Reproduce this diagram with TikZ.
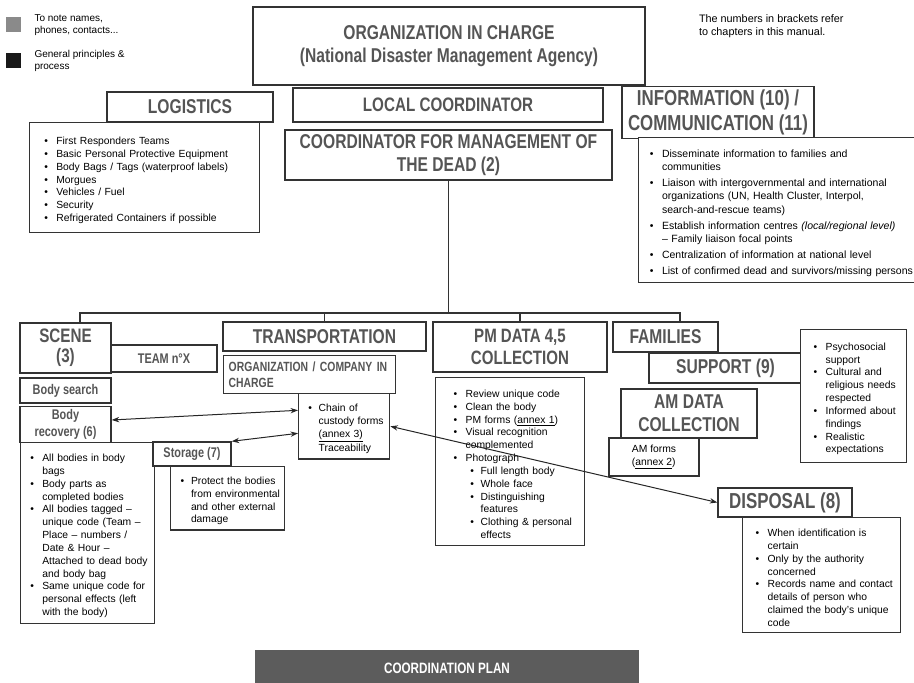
\documentclass[tikz,border=0pt]{standalone}
\usepackage{fontspec}
\setmainfont{Liberation Sans}
\newfontfamily\headfont{Liberation Sans}[FakeStretch=0.78]
\usepackage{enumitem}
\usetikzlibrary{arrows.meta,positioning}
\definecolor{headgray}{HTML}{555555}
\definecolor{edgegray}{HTML}{333333}
\definecolor{keygray}{HTML}{8A8A8A}
\definecolor{planbg}{HTML}{5C5C5C}
\setlist[itemize]{nosep, leftmargin=11pt, labelsep=5pt, label=\textbullet}
\newcommand{\listsize}{\fontsize{6.2}{7.7}\selectfont}

\begin{document}
\begin{tikzpicture}[
    x=0.6pt, y=-0.6pt,
    sz/.style 2 args={minimum width=#1*0.6pt, minimum height=#2*0.6pt},
    lw/.style 2 args={minimum width=#1*0.6pt, minimum height=#2*0.6pt, text width=#1*0.6pt-6pt},
    box/.style={rectangle, draw=edgegray, line width=0.8pt, fill=white, inner sep=2pt},
    headbox/.style={box, align=center, text=headgray, font=\headfont\bfseries\fontsize{12}{14}\selectfont},
    bighead/.style={font=\headfont\bfseries\fontsize{13}{15}\selectfont},
    smallhead/.style={font=\headfont\bfseries\fontsize{8.4}{10}\selectfont},
    listbox/.style={box, anchor=north west, inner sep=3pt, align=left, font=\listsize},
    keysq/.style={rectangle, sz={15}{15}, inner sep=0pt},
    keytext/.style={align=left, inner sep=1pt, font=\fontsize{6}{7}\selectfont},
    bus/.style={line width=0.9pt, draw=edgegray},
    link/.style={<->, line width=0.6pt, draw=black!85, >={Stealth[length=4.5pt, width=3.2pt]}}
]
    \useasboundingbox (0,0) rectangle (914,683);

    % --- legend and note ---
    \node[keysq, fill=keygray] (keynote) at (13,25) {};
    \node[keytext, right=7pt of keynote] (keynotetxt) {To note names,\\phones, contacts...};
    \node[keysq, fill=black!90] (keyproc) at (13,61) {};
    \node[keytext, right=7pt of keyproc] (keyproctxt) {General principles \&\\process};
    \node[keytext, anchor=north west, font=\fontsize{6.5}{7.5}\selectfont] (chapnote) at (697,13) {The numbers in brackets refer\\to chapters in this manual.};

    % --- top: command ---
    \node[headbox, sz={392}{78}] (org) at (449,46) {ORGANIZATION IN CHARGE\\(National Disaster Management Agency)};
    \node[headbox, sz={310}{34}, font=\headfont\bfseries\fontsize{11.7}{13}\selectfont] (local) at (448,105) {LOCAL COORDINATOR};
    \node[headbox, sz={327}{50}] (coord) at (448.5,155) {COORDINATOR FOR MANAGEMENT OF\\THE DEAD (2)};

    % --- logistics ---
    \node[headbox, sz={166}{30}] (logist) at (190,107) {LOGISTICS};
    \node[listbox, lw={230}{110}] (logistlist) at (29,122) {%
        \begin{itemize}[leftmargin=13pt]
            \item First Responders Teams
            \item Basic Personal Protective Equipment
            \item Body Bags / Tags (waterproof labels)
            \item Morgues
            \item Vehicles / Fuel
            \item Security
            \item Refrigerated Containers if possible
        \end{itemize}};

    % --- information / communication ---
    \node[headbox, bighead, sz={192}{49}] (info) at (718,112.5) {INFORMATION (10) /\\COMMUNICATION (11)};
    \node[listbox, lw={292}{145}, font=\fontsize{6.3}{8}\selectfont] (infolist) at (638,137) {%
        \begin{itemize}[itemsep=1.6pt]
            \item Disseminate information to families and\\communities
            \item Liaison with intergovernmental and international\\organizations (UN, Health Cluster, Interpol,\\search-and-rescue teams)
            \item Establish information centres \textit{(local/regional level)}\\
                  -- Family liaison focal points
            \item Centralization of information at national level
            \item List of confirmed dead and survivors/missing persons
        \end{itemize}};

    % --- scene ---
    \node[headbox, sz={91}{50}, font=\headfont\bfseries\fontsize{11.7}{12}\selectfont] (scene) at (65.5,348) {SCENE\\(3)};
    \node[headbox, smallhead, sz={106}{27}] (team) at (164,358.5) {TEAM n°X};
    \node[headbox, smallhead, sz={91}{25}] (bsearch) at (65.5,390.5) {Body search};
    \node[headbox, smallhead, sz={91}{35}] (brecov) at (65.5,424.5) {Body\\recovery (6)};
    \node[listbox, lw={134}{181}] (scenelist) at (20,442) {%
        \begin{itemize}[leftmargin=10pt, labelsep=5pt]
            \item All bodies in body bags
            \item Body parts as completed bodies
            \item All bodies tagged -- unique code (Team -- Place -- numbers / Date \& Hour -- Attached to dead body and body bag
            \item Same unique code for personal effects (left with the body)
        \end{itemize}};
    \node[headbox, smallhead, sz={78}{24}] (storage) at (192,454) {Storage (7)};
    \node[listbox, lw={114}{57}, text width=64pt, inner xsep=2.2pt] (storelist) at (170,466) {%
        \begin{itemize}[leftmargin=10pt, labelsep=4pt]
            \item Protect the bodies from environmental and other external damage
        \end{itemize}};

    % --- transportation ---
    \node[headbox, sz={203}{29}] (transp) at (324.5,336.5) {TRANSPORTATION};
    \node[headbox, anchor=north west, align=left, inner sep=3pt, lw={172}{38}, font=\headfont\bfseries\fontsize{8}{10}\selectfont] (orgco) at (223,355) {ORGANIZATION / COMPANY IN\\CHARGE};
    \node[listbox, lw={91}{56}] (chain) at (298,393) {%
        \begin{itemize}[leftmargin=9pt, labelsep=4pt]
            \item Chain of\\custody forms\\\underline{(annex 3)}\\Traceability
        \end{itemize}};

    % --- PM data ---
    \node[headbox, sz={174}{50}, font=\headfont\bfseries\fontsize{11.6}{13.5}\selectfont] (pm) at (520,347) {PM DATA 4,5\\COLLECTION};
    \node[listbox, lw={149}{168}] (pmlist) at (435,377) {%
        \begin{itemize}[leftmargin=15pt]
            \item Review unique code
            \item Clean the body
            \item PM forms (\underline{annex 1})
            \item Visual recognition complemented
            \item Photograph
            \begin{itemize}[leftmargin=9pt, labelsep=4pt]
                \item Full length body
                \item Whole face
                \item Distinguishing features
                \item Clothing \& personal effects
            \end{itemize}
        \end{itemize}};

    % --- families ---
    \node[headbox, sz={105}{30}] (fam) at (665.5,337) {FAMILIES};
    \node[headbox, sz={153}{30}] (support) at (725.5,368) {SUPPORT (9)};
    \node[listbox, lw={106}{133}] (suplist) at (800,329) {%
        \begin{itemize}[leftmargin=12pt]
            \item Psychosocial support
            \item Cultural and religious needs respected
            \item Informed about findings
            \item Realistic expectations
        \end{itemize}};
    \node[headbox, sz={136}{49}] (amdata) at (689,413.5) {AM DATA\\COLLECTION};
    \node[box, sz={90}{38}, align=left, font=\listsize] (amforms) at (654,457) {AM forms\\(\underline{annex 2})};

    % --- disposal ---
    \node[headbox, bighead, sz={134}{29}] (disp) at (785,502.5) {DISPOSAL (8)};
    \node[listbox, lw={158}{115}] (displist) at (742,517) {%
        \begin{itemize}[leftmargin=12pt, labelsep=5pt]
            \item When identification is certain
            \item Only by the authority concerned
            \item Records name and contact details of person who claimed the body's unique code
        \end{itemize}};

    % --- footer bar ---
    \node[rectangle, fill=planbg, sz={384}{36}, text=white, font=\headfont\bfseries\fontsize{9}{10}\selectfont] (plan) at (447,668) {COORDINATION PLAN};

    % --- tree lines ---
    \coordinate (bus) at (448.5,313);
    \draw[bus] (coord.south) -- (bus);
    \draw[bus] ([xshift=8.7pt]scene.north) |- (bus) -| ([xshift=8.7pt]fam.north);
    \draw[bus] (transp.north) -- (transp.north |- bus);
    \draw[bus] (pm.north) -- (pm.north |- bus);

    % --- custody links ---
    \draw[link] ([yshift=2.7pt]brecov.east) -- ([yshift=9.6pt]chain.west);
    \draw[link] (storage.north east) -- ([yshift=-4.2pt]chain.west);
    \draw[link] (chain.east) -- (disp.west);
\end{tikzpicture}
\end{document}
